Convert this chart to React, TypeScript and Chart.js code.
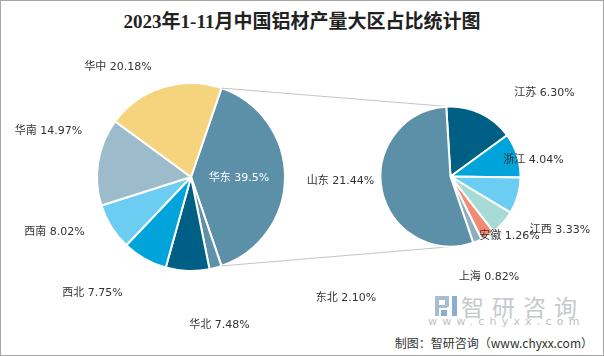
import React, { useEffect, useRef } from "react";
import { Chart, registerables } from "chart.js";

Chart.register(...registerables);

// ---------- data ----------
const TITLE = "2023年1-11月中国铝材产量大区占比统计图";
const REGIONS = ["华东", "东北", "华北", "西北", "西南", "华南", "华中"];
const REGION_VALUES = [39.5, 2.1, 7.48, 7.75, 8.02, 14.97, 20.18];
const PROVINCES = ["江苏", "浙江", "江西", "福建", "安徽", "上海", "山东"];
const PROVINCE_VALUES = [6.3, 4.04, 3.33, 2.31, 1.26, 0.82, 21.44];
const HIDDEN_LABELS = ["福建"];
const FOOTER = "制图：智研咨询（www.chyxx.com）";
const BRAND = "智研咨询";
const BRAND_URL = "www.chyxx.com";

// ---------- styles / layout ----------
const REGION_COLORS = ["#5c90a8", "#5f91a9", "#005f84", "#00a4da", "#6bcdf2", "#9dbccb", "#f6d47e"];
const PROVINCE_COLORS = ["#005f84", "#00a4da", "#6bcdf2", "#a6dbd6", "#f28b72", "#8cb0c0", "#5c90a8"];
const W = 604;
const H = 356;
// label offsets from own pie centre
const LEFT_LABEL_OFFSETS: [number, number][] = [
  [48, 1], [155, 121], [28.5, 148], [-98.5, 116], [-136.5, 55], [-142.5, -45.5], [-73, -109.5],
];
const RIGHT_LABEL_OFFSETS: [number, number][] = [
  [94, -83.5], [83, -16.5], [109.5, 53.5], [0, 0], [59, 59.5], [38.5, 100.5], [-110, 4.5],
];
const LABEL_FONT = '11px "DejaVu Sans", "Noto Sans CJK SC", sans-serif';

function fmt(v: number, i: number, first: boolean) {
  return first && i === 0 ? String(v) : v.toFixed(2);
}

export default function App() {
  const leftRef = useRef<HTMLCanvasElement>(null);
  const rightRef = useRef<HTMLCanvasElement>(null);

  useEffect(() => {
    const total = REGION_VALUES.reduce((a, b) => a + b, 0);
    const leftRotation = 90 - (REGION_VALUES[0] / total) * 180;

    const left = new Chart(leftRef.current!, {
      type: "pie",
      data: {
        labels: REGIONS,
        datasets: [
          {
            data: REGION_VALUES,
            backgroundColor: REGION_COLORS,
            borderColor: "#ffffff",
            borderWidth: 2,
            radius: 94,
          } as any,
        ],
      },
      options: {
        responsive: false,
        animation: false,
        rotation: leftRotation,
        layout: { padding: { left: 97, right: 319, top: 83, bottom: 85 } },
        plugins: { legend: { display: false }, tooltip: { enabled: false }, title: { display: false } },
      },
    });

    const overlay = {
      id: "overlay",
      beforeDatasetsDraw(chart: any) {
        const ctx = chart.ctx as CanvasRenderingContext2D;
        const big = left.getDatasetMeta(0).data[0] as any;
        const bp = big.getProps(["x", "y", "startAngle", "endAngle", "outerRadius"], true);
        const small = chart.getDatasetMeta(0).data[0] as any;
        const sp = small.getProps(["x", "y", "outerRadius"], true);
        ctx.save();
        ctx.strokeStyle = "#c4c4c4";
        ctx.lineWidth = 1;
        ctx.beginPath();
        ctx.moveTo(bp.x + bp.outerRadius * Math.cos(bp.startAngle), bp.y + bp.outerRadius * Math.sin(bp.startAngle));
        ctx.lineTo(sp.x - 3, sp.y - sp.outerRadius);
        ctx.moveTo(bp.x + bp.outerRadius * Math.cos(bp.endAngle), bp.y + bp.outerRadius * Math.sin(bp.endAngle));
        ctx.lineTo(sp.x + 3, sp.y + sp.outerRadius);
        ctx.stroke();
        ctx.restore();
      },
      afterDraw(chart: any) {
        const ctx = chart.ctx as CanvasRenderingContext2D;
        ctx.save();
        ctx.font = LABEL_FONT;
        ctx.textAlign = "center";
        ctx.textBaseline = "middle";
        const lArc = left.getDatasetMeta(0).data[0] as any;
        const lc = lArc.getProps(["x", "y"], true);
        REGIONS.forEach((name, i) => {
          const [dx, dy] = LEFT_LABEL_OFFSETS[i];
          ctx.fillStyle = i === 0 ? "#ffffff" : "#333333";
          ctx.fillText(`${name} ${fmt(REGION_VALUES[i], i, true)}%`, lc.x + dx, lc.y + dy);
        });
        const rArc = chart.getDatasetMeta(0).data[0] as any;
        const rc = rArc.getProps(["x", "y"], true);
        PROVINCES.forEach((name, i) => {
          if (HIDDEN_LABELS.includes(name)) return;
          const [dx, dy] = RIGHT_LABEL_OFFSETS[i];
          ctx.fillStyle = "#333333";
          ctx.fillText(`${name} ${fmt(PROVINCE_VALUES[i], i, false)}%`, rc.x + dx, rc.y + dy);
        });
        ctx.restore();
      },
    };

    const right = new Chart(rightRef.current!, {
      type: "pie",
      data: {
        labels: PROVINCES,
        datasets: [
          {
            data: PROVINCE_VALUES,
            backgroundColor: PROVINCE_COLORS,
            borderColor: "#ffffff",
            borderWidth: 2,
            radius: 70,
          } as any,
        ],
      },
      options: {
        responsive: false,
        animation: false,
        rotation: -3.5,
        layout: { padding: { left: 380, right: 83, top: 106, bottom: 109 } },
        plugins: { legend: { display: false }, tooltip: { enabled: false }, title: { display: false } },
      },
      plugins: [overlay],
    });

    return () => {
      right.destroy();
      left.destroy();
    };
  }, []);

  const abs: React.CSSProperties = { position: "absolute", left: 0, top: 0 };
  const iconColor = "#a9bdd1";
  const iconBlue = "#8aaed3";

  return (
    <div style={{ position: "fixed", left: 0, top: 0, width: W, height: H, background: "#fff", overflow: "hidden" }}>
      <div
        style={{
          position: "absolute",
          left: 0,
          top: 10,
          width: W,
          textAlign: "center",
          font: 'bold 19px "Liberation Serif", "Noto Sans CJK SC", serif',
          lineHeight: "24px",
          color: "#222",
          whiteSpace: "nowrap",
        }}
      >
        {TITLE}
      </div>
      {/* watermark logo */}
      <div style={{ position: "absolute", left: 435, top: 296, width: 14, height: 4, background: iconColor }} />
      <div style={{ position: "absolute", left: 435, top: 296, width: 4, height: 20, background: iconColor }} />
      <div style={{ position: "absolute", left: 445, top: 296, width: 4, height: 11, background: iconColor }} />
      <div style={{ position: "absolute", left: 439, top: 305, width: 8, height: 3, background: iconColor }} />
      <div style={{ position: "absolute", left: 441, top: 310, width: 6, height: 6, background: iconBlue }} />
      <div style={{ position: "absolute", left: 452, top: 296, width: 5, height: 20, background: iconBlue }} />
      <div
        style={{
          position: "absolute",
          left: 461,
          top: 290,
          font: '23px "Noto Sans CJK SC", sans-serif',
          lineHeight: "32px",
          letterSpacing: "8px",
          color: "#c6c9cc",
          whiteSpace: "nowrap",
        }}
      >
        {BRAND}
      </div>
      <div
        style={{
          position: "absolute",
          left: 428,
          top: 315,
          font: '11px "DejaVu Sans", sans-serif',
          lineHeight: "14px",
          letterSpacing: "5.2px",
          color: "#bfbfbf",
          whiteSpace: "nowrap",
        }}
      >
        {BRAND_URL}
      </div>
      <div
        style={{
          position: "absolute",
          right: 11,
          top: 334,
          font: '12px "Noto Sans CJK SC", sans-serif',
          lineHeight: "18px",
          color: "#333",
          whiteSpace: "nowrap",
        }}
      >
        {FOOTER}
      </div>
      <canvas ref={leftRef} width={W} height={H} style={{ ...abs, width: W, height: H }} />
      <canvas ref={rightRef} width={W} height={H} style={{ ...abs, width: W, height: H }} />
      <div
        style={{
          position: "absolute",
          left: 0,
          top: 0,
          width: W,
          height: H,
          boxSizing: "border-box",
          border: "1px solid #a6a6a6",
          pointerEvents: "none",
        }}
      />
    </div>
  );
}
